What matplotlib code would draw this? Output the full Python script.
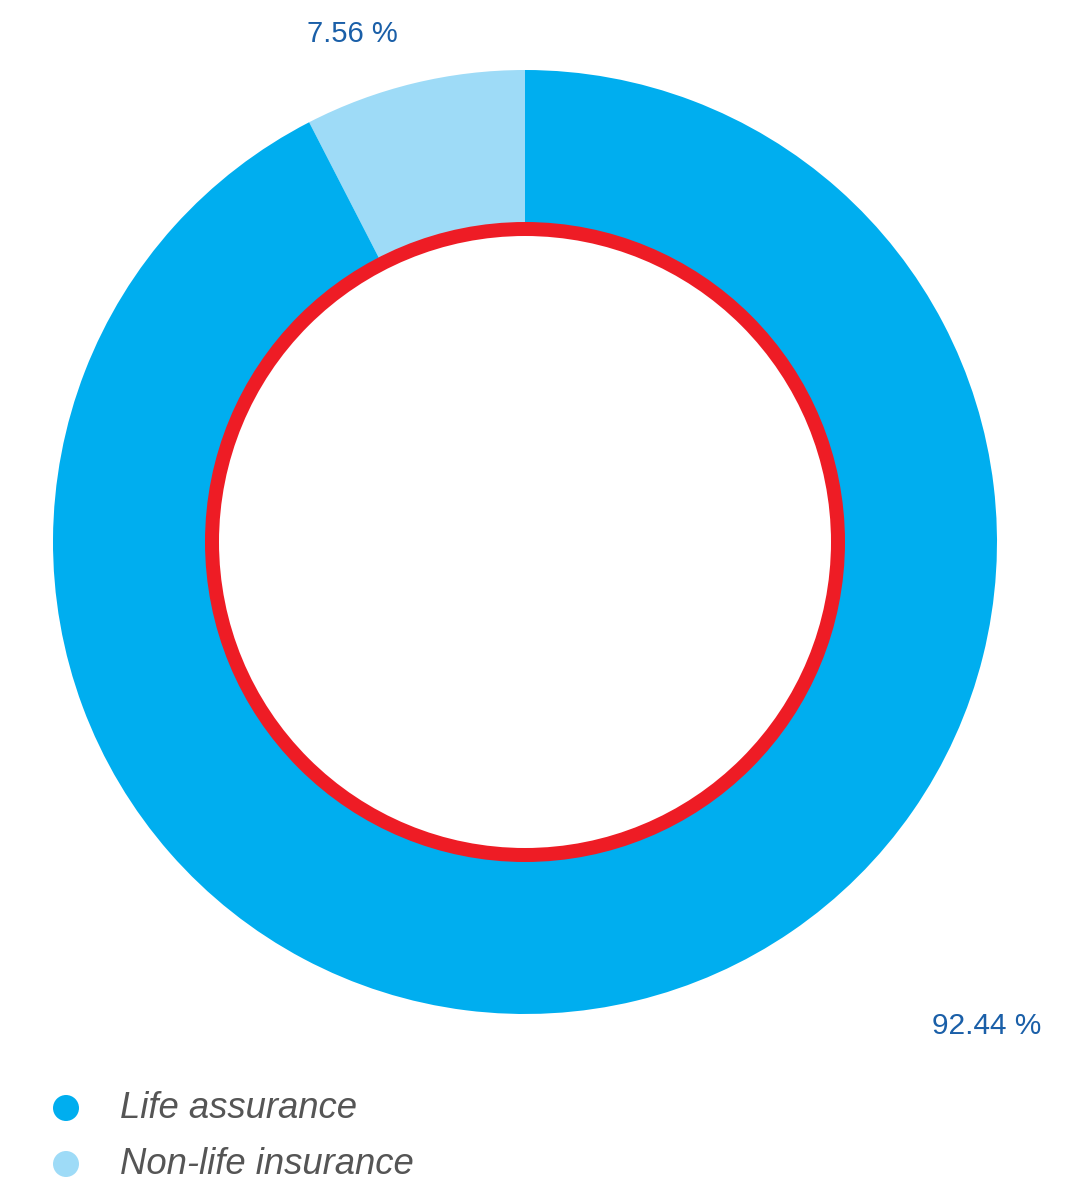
import matplotlib.pyplot as plt
from matplotlib.patches import Circle

labels = ['Non-life insurance', 'Life assurance']
shares = [7.56, 92.44]
colors = ['#9edbf7', '#00aeef']
legend_order = ['Life assurance', 'Non-life insurance']

W, H = 1066, 1181
fig = plt.figure(figsize=(W / 100, H / 100), dpi=100)
ax = fig.add_axes([0, 0, 1, 1])

cx, cy = 525, H - 542
r_out = 472
r_in = 313

ax.pie(shares, colors=colors, startangle=90, counterclock=True,
       center=(cx, cy), radius=r_out, frame=True,
       wedgeprops=dict(width=r_out - r_in, linewidth=0))
ax.set_xlim(0, W)
ax.set_ylim(0, H)
ax.set_aspect('equal')
ax.axis('off')

# red inner ring
ax.add_patch(Circle((cx, cy), r_in, facecolor='white', edgecolor='#ee1c25',
                    linewidth=14 * 0.72, zorder=5))

lab_color = '#1a5fa8'
font = 'Liberation Sans'
ax.text(352, H - 34, f'{shares[0]:.2f} %', ha='center', va='center',
        fontsize=21, color=lab_color, family=font)
ax.text(987, H - 1026, f'{shares[1]:.2f} %', ha='center', va='center',
        fontsize=21.5, color=lab_color, family=font)

# legend
for i, name in enumerate(legend_order):
    y = H - (1108 + 56 * i)
    c = colors[labels.index(name)]
    ax.add_patch(Circle((66, y), 13, facecolor=c, edgecolor='none'))
    ax.text(120, y - 1, name, ha='left', va='center', fontsize=26.3,
            style='italic', color='#555555', family=font)

fig.savefig('out.png', dpi=100)
